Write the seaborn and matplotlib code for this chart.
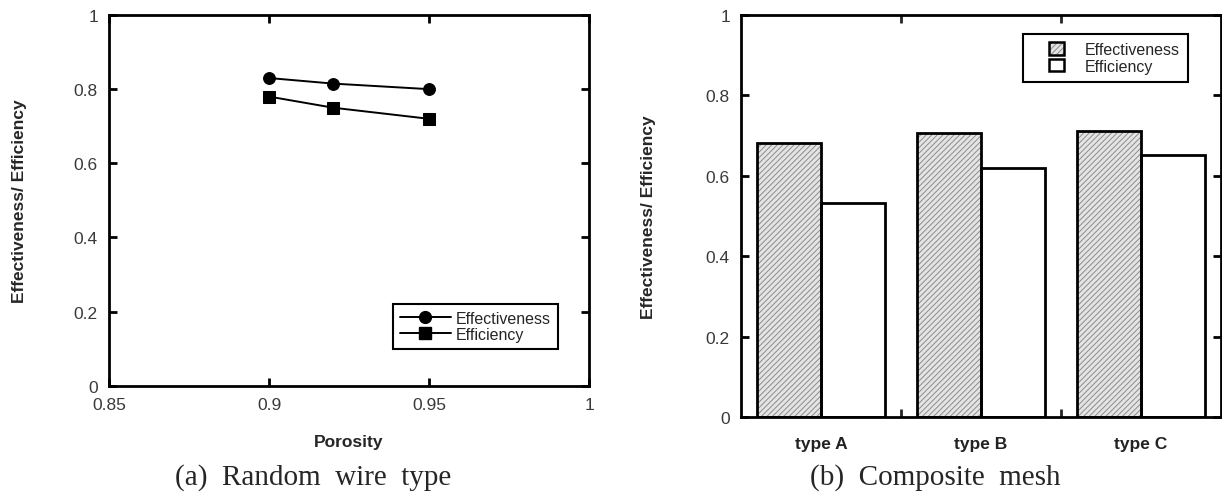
import pandas as pd
import matplotlib
matplotlib.use('Agg')
import matplotlib.pyplot as plt
import seaborn as sns
from matplotlib.patches import Patch, Rectangle
from matplotlib.lines import Line2D
from matplotlib.legend_handler import HandlerPatch

# Date
porosity = [0.90, 0.92, 0.95]
effectiveness_wire = [0.83, 0.815, 0.80]
efficiency_wire = [0.78, 0.75, 0.72]

mesh_types = ['type A', 'type B', 'type C']
effectiveness_mesh = [0.681, 0.705, 0.711]
efficiency_mesh = [0.531, 0.620, 0.651]

sns.set_style('ticks')
plt.rcParams['font.family'] = ['Liberation Sans', 'DejaVu Sans']
plt.rcParams['hatch.linewidth'] = 0.7

HATCH_BG = '#e4e4e4'
HATCH_FG = '#8c8c8c'

fig = plt.figure(figsize=(12.22, 5.02), dpi=100)
ax1 = fig.add_axes([0.0892, 0.2297, 0.3928, 0.7384])
ax2 = fig.add_axes([0.6064, 0.1673, 0.3928, 0.8014])


def style_axes(ax, xpad):
    for sp in ax.spines.values():
        sp.set_linewidth(2)
        sp.set_color('black')
        sp.set_visible(True)
    ax.tick_params(direction='in', length=6, width=2, top=True, right=True,
                   labelsize=12.5, labelcolor='#3a3a3a', color='black')
    ax.tick_params(axis='x', pad=xpad)
    ax.tick_params(axis='y', pad=8)
    ax.set_ylim(0, 1)
    ax.set_yticks([0, 0.2, 0.4, 0.6, 0.8, 1])
    ax.set_yticklabels(['0', '0.2', '0.4', '0.6', '0.8', '1'])
    ax.set_ylabel('Effectiveness/ Efficiency', fontsize=12.5, fontweight='bold')


# patratel mic aliniat la dreapta in legenda
def small_square(legend, orig_handle, xdescent, ydescent, width, height, fontsize):
    side = 11
    return Rectangle((-xdescent + width - side, -ydescent), side, height)


# (a) Random wire type
df_wire = pd.DataFrame({'Porosity': porosity * 2,
                        'Value': effectiveness_wire + efficiency_wire,
                        'Kind': ['Effectiveness'] * 3 + ['Efficiency'] * 3})
sns.lineplot(data=df_wire[df_wire['Kind'] == 'Effectiveness'], x='Porosity', y='Value',
             ax=ax1, color='black', lw=1.4, marker='o', markersize=8.5, markeredgecolor='black')
sns.lineplot(data=df_wire[df_wire['Kind'] == 'Efficiency'], x='Porosity', y='Value',
             ax=ax1, color='black', lw=1.4, marker='s', markersize=8.5, markeredgecolor='black')
style_axes(ax1, 8)
ax1.set_xlim(0.85, 1)
ax1.set_xticks([0.85, 0.9, 0.95, 1])
ax1.set_xticklabels(['0.85', '0.9', '0.95', '1'])
ax1.set_xlabel('Porosity', fontsize=12.5, fontweight='bold')
ax1.xaxis.set_label_coords(0.5, -0.13)
ax1.yaxis.set_label_coords(-0.171, 0.5)
h1 = [Line2D([], [], color='black', lw=1.4, marker='o', markersize=8.5),
      Line2D([], [], color='black', lw=1.4, marker='s', markersize=8.5)]
leg1 = ax1.legend(h1, ['Effectiveness', 'Efficiency'], loc='lower right',
                  bbox_to_anchor=(0.935, 0.099), borderaxespad=0, fontsize=11.5,
                  fancybox=False, framealpha=1, edgecolor='black', handlelength=3.2,
                  labelspacing=0.05, borderpad=0.45, handletextpad=0.3)
leg1.get_frame().set_linewidth(1.5)

# (b) Composite mesh
df_mesh = pd.DataFrame({'Type': mesh_types * 2,
                        'Value': effectiveness_mesh + efficiency_mesh,
                        'Kind': ['Effectiveness'] * 3 + ['Efficiency'] * 3})
sns.barplot(data=df_mesh, x='Type', y='Value', hue='Kind', ax=ax2,
            palette={'Effectiveness': HATCH_BG, 'Efficiency': 'white'},
            edgecolor='black', linewidth=2, width=0.8, legend=False)
for bar in list(ax2.patches):
    if bar.get_height() == 0:
        continue
    if bar.get_facecolor()[0] < 0.99:
        # hasura gri, contur negru desenat separat
        bar.set_hatch('//////')
        bar.set_edgecolor(HATCH_FG)
        bar.set_linewidth(0)
        ax2.add_patch(Rectangle(bar.get_xy(), bar.get_width(), bar.get_height(),
                                fill=False, ec='black', lw=2, zorder=bar.get_zorder() + 0.1))
style_axes(ax2, 14)
ax2.set_xlim(-0.5, 2.5)
ax2.set_xticks([0, 1, 2])
ax2.set_xticklabels(mesh_types, fontsize=12.5, fontweight='bold', color='#222222')
ax2.tick_params(axis='x', length=0)
ax2.set_xticks([0.5, 1.5], minor=True)
ax2.tick_params(axis='x', which='minor', direction='in', length=6, width=2, top=True, bottom=True)
ax2.set_xlabel('')
ax2.yaxis.set_label_coords(-0.177, 0.5)
h2 = [(Patch(facecolor=HATCH_BG, edgecolor=HATCH_FG, hatch='//////', lw=0),
       Patch(facecolor='none', edgecolor='black', lw=1.8)),
      Patch(facecolor='white', edgecolor='black', lw=1.8)]
leg2 = ax2.legend(h2, ['Effectiveness', 'Efficiency'], loc='upper right',
                  bbox_to_anchor=(0.931, 0.952), borderaxespad=0, fontsize=11.5,
                  fancybox=False, framealpha=1, edgecolor='black', handlelength=2.1,
                  handleheight=0.85, labelspacing=0.1, borderpad=0.5, handletextpad=1.3,
                  handler_map={Patch: HandlerPatch(patch_func=small_square)})
leg2.get_frame().set_linewidth(1.5)

# Subtitluri
fig.text(0.256, 0.048, '(a)  Random  wire  type', ha='center', va='center',
         fontsize=21, family=['Liberation Serif', 'DejaVu Serif'])
fig.text(0.765, 0.048, '(b)  Composite  mesh', ha='center', va='center',
         fontsize=21, family=['Liberation Serif', 'DejaVu Serif'])

fig.savefig('out.png', dpi=100)
